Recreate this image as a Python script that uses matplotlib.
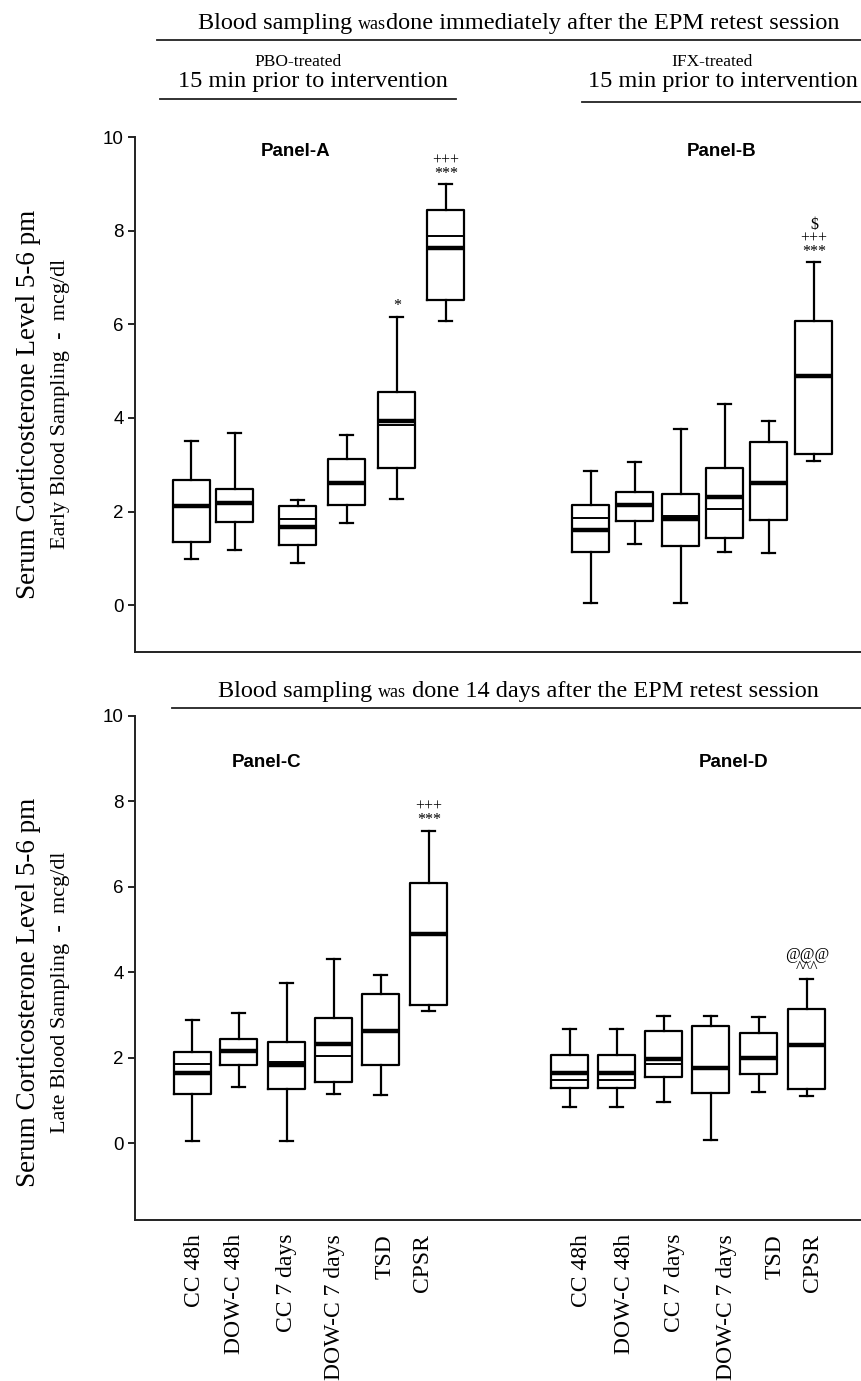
import matplotlib
matplotlib.use("Agg")
import matplotlib.pyplot as plt
from matplotlib.lines import Line2D

W, H = 862, 1381
SERIF = "Liberation Serif"
SANS = "Liberation Sans"

# box stats: whisker low, q1, median, mean, q3, whisker high
early_pbo = [[0.98, 1.35, 2.12, 2.12, 2.67, 3.51],
             [1.17, 1.77, 2.19, 2.19, 2.49, 3.68],
             [0.90, 1.28, 1.68, 1.85, 2.12, 2.24],
             [1.76, 2.14, 2.62, 2.62, 3.13, 3.63],
             [2.26, 2.92, 3.93, 3.85, 4.56, 6.15],
             [6.07, 6.52, 7.63, 7.88, 8.45, 8.99]]
early_ifx = [[0.04, 1.13, 1.60, 1.86, 2.13, 2.87],
             [1.30, 1.80, 2.13, 2.13, 2.42, 3.05],
             [0.04, 1.26, 1.84, 1.90, 2.37, 3.76],
             [1.13, 1.43, 2.32, 2.05, 2.93, 4.30],
             [1.11, 1.81, 2.60, 2.60, 3.49, 3.93],
             [3.08, 3.22, 4.90, 4.90, 6.07, 7.32]]
late_pbo = [[0.05, 1.15, 1.63, 1.86, 2.14, 2.88],
            [1.32, 1.82, 2.15, 2.15, 2.43, 3.05],
            [0.05, 1.27, 1.84, 1.90, 2.37, 3.76],
            [1.15, 1.43, 2.33, 2.05, 2.93, 4.31],
            [1.12, 1.82, 2.62, 2.62, 3.49, 3.93],
            [3.09, 3.23, 4.90, 4.90, 6.08, 7.31]]
late_ifx = [[0.84, 1.30, 1.63, 1.47, 2.07, 2.67],
            [0.84, 1.30, 1.63, 1.47, 2.07, 2.67],
            [0.97, 1.55, 1.96, 1.85, 2.62, 2.97],
            [0.07, 1.18, 1.76, 1.76, 2.74, 2.97],
            [1.19, 1.61, 2.00, 2.00, 2.58, 2.95],
            [1.10, 1.26, 2.29, 2.29, 3.13, 3.84]]

groups = ["CC 48h", "DOW-C 48h", "CC 7 days", "DOW-C 7 days", "TSD", "CPSR"]
panel_names = ["Panel-A", "Panel-B", "Panel-C", "Panel-D"]

# significance marks: (panel, box index, lines from top to bottom)
marks = [(0, 4, ["*"]), (0, 5, ["+++", "***"]),
         (1, 5, ["$", "+++", "***"]),
         (2, 5, ["+++", "***"]),
         (3, 5, ["@@@", "^^^"])]

# layout (x in pixels from the left spine)
pos_top_l = [56.5, 100, 163, 212, 262, 311]
pos_top_r = [456, 500, 546, 590, 634, 679]
pos_bot_l = [57.5, 104, 152, 199, 246, 294]
pos_bot_r = [435, 482, 529, 576, 624, 672]
lab_pos = [60, 100, 152, 200, 250, 288, 447, 490, 540, 592, 640, 678]

fig = plt.figure(figsize=(W / 100, H / 100), dpi=100)


def px(x, y):
    return x / W, 1 - y / H


def stats(rows):
    out = []
    for r in rows:
        out.append(dict(whislo=r[0], q1=r[1], med=r[2], mean=r[3], q3=r[4], whishi=r[5], fliers=[]))
    return out


def make_axes(top, bottom, ymin):
    ax = fig.add_axes([135 / W, 1 - bottom / H, 1 - 135 / W, (bottom - top) / H])
    ax.set_xlim(0, 727)
    ax.set_ylim(ymin, 10)
    for s in ["top", "right"]:
        ax.spines[s].set_visible(False)
    for s in ["left", "bottom"]:
        ax.spines[s].set_linewidth(1.4)
        ax.spines[s].set_color("#222222")
    ax.spines["left"].set_bounds(ymin, 10)
    ax.set_yticks([0, 2, 4, 6, 8, 10])
    ax.tick_params(axis="y", direction="out", length=5, width=1.2, pad=3, labelsize=13.5)
    for t in ax.get_yticklabels():
        t.set_fontfamily(SANS)
    return ax


def draw(ax, rows, pos):
    ax.bxp(stats(rows), positions=pos, widths=37, capwidths=13, showmeans=True, meanline=True,
           showfliers=False, patch_artist=False,
           boxprops=dict(color="black", linewidth=1.6),
           whiskerprops=dict(color="black", linewidth=1.6),
           capprops=dict(color="black", linewidth=1.6),
           medianprops=dict(color="black", linewidth=3.2, zorder=4),
           meanprops=dict(color="black", linewidth=1.4, linestyle="-", zorder=3),
           manage_ticks=False)


ax1 = make_axes(137, 652, -1.0)
draw(ax1, early_pbo, pos_top_l)
draw(ax1, early_ifx, pos_top_r)
ax1.set_xticks([])

ax2 = make_axes(716, 1220, -1.8)
draw(ax2, late_pbo, pos_bot_l)
draw(ax2, late_ifx, pos_bot_r)
ax2.set_xticks(lab_pos)
ax2.set_xticklabels(groups + groups, rotation=90, fontfamily=SERIF, fontsize=17, va="top")
ax2.tick_params(axis="x", length=0, pad=10)

# significance marks, stacked in one text per box
all_rows = [(ax1, early_pbo, pos_top_l), (ax1, early_ifx, pos_top_r),
            (ax2, late_pbo, pos_bot_l), (ax2, late_ifx, pos_bot_r)]
for p, i, lines in marks:
    ax, rows, pos = all_rows[p]
    ax.annotate("\n".join(lines), (pos[i], rows[i][5]), xytext=(0, 2), textcoords="offset points",
                ha="center", va="bottom", fontsize=11.5, fontfamily=SERIF, linespacing=0.78,
                multialignment="center")

# panel titles
for (x, y), name in zip([(296, 152), (722, 152), (267, 763), (734, 763)], panel_names):
    fig.text(*px(x, y), name, ha="center", va="center", fontsize=13.5, fontweight="bold", fontfamily=SANS)

# y labels
for yc, sub in [(404, "Early Blood Sampling  -  mcg/dl"), (992, "Late Blood Sampling  -  mcg/dl")]:
    fig.text(*px(29, yc), "Serum Corticosterone Level 5-6 pm", rotation=90, ha="center", va="center",
             fontsize=19.5, fontfamily=SERIF)
    fig.text(*px(61, yc), sub, rotation=90, ha="center", va="center", fontsize=16, fontfamily=SERIF)


def header(y, parts, x0):
    # parts: list of (text, size); drawn left to right
    fig.canvas.draw()
    r = fig.canvas.get_renderer()
    x = x0
    for s, fs in parts:
        t = fig.text(*px(x, y), s, ha="left", va="baseline", fontsize=fs, fontfamily=SERIF)
        bb = t.get_window_extent(renderer=r)
        x += bb.width


def hline(y, x0, x1, lw=1.3):
    fig.add_artist(Line2D([x0 / W, x1 / W], [1 - y / H, 1 - y / H], color="#222222", linewidth=lw))


header(29, [("Blood sampling ", 17.5), ("was", 13), ("done immediately after the EPM retest session", 17.5)], 198)
hline(40, 157, 862)
fig.text(*px(298, 62), "PBO-treated", ha="center", va="center", fontsize=12.5, fontfamily=SERIF)
fig.text(*px(313, 81), "15 min prior to intervention", ha="center", va="center", fontsize=17.5, fontfamily=SERIF)
hline(99, 160, 456)
fig.text(*px(712, 62), "IFX-treated", ha="center", va="center", fontsize=12.5, fontfamily=SERIF)
fig.text(*px(858, 81), "15 min prior to intervention", ha="right", va="center", fontsize=17.5, fontfamily=SERIF)
hline(102, 582, 862)

header(697, [("Blood sampling ", 17.5), ("was", 13), (" done 14 days after the EPM retest session", 17.5)], 218)
hline(708, 172, 862)

fig.savefig("out.png", dpi=100)
